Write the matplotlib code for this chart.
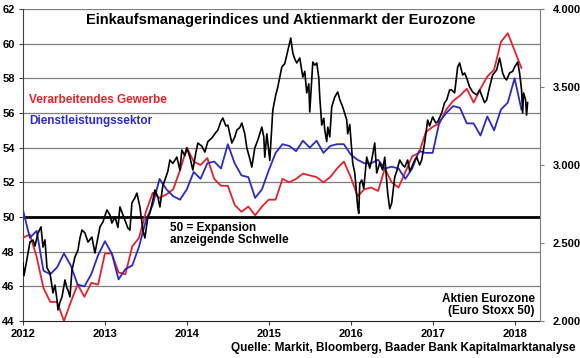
import matplotlib
matplotlib.use("Agg")
import matplotlib.pyplot as plt
from matplotlib.ticker import FuncFormatter

plt.rcParams['font.family'] = ['Liberation Sans', 'DejaVu Sans']
plt.rcParams['font.weight'] = 'bold'

# monthly PMI values, Jan 2012 .. Feb 2018
manufacturing = [48.8, 49.0, 47.7, 45.9, 45.1, 45.1, 44.0, 45.1, 46.1, 45.4, 46.2, 46.1,
                 47.9, 47.9, 46.8, 46.7, 48.3, 48.8, 50.3, 51.4, 51.1, 51.3, 51.6, 52.7,
                 54.0, 53.2, 53.0, 53.4, 52.2, 51.8, 51.8, 50.7, 50.3, 50.6, 50.1, 50.6,
                 51.0, 51.0, 52.2, 52.0, 52.2, 52.5, 52.4, 52.3, 52.0, 52.3, 52.8, 53.2,
                 52.3, 51.2, 51.6, 51.7, 51.5, 52.8, 52.0, 51.7, 52.6, 53.5, 53.7, 54.9,
                 55.2, 55.4, 56.2, 56.7, 57.0, 57.4, 56.6, 57.4, 58.1, 58.5, 60.1, 60.6,
                 59.6, 58.6]
services = [50.4, 48.8, 49.2, 46.9, 46.7, 47.1, 47.9, 47.2, 46.1, 46.0, 46.7, 47.8,
            48.6, 47.9, 46.4, 47.0, 47.2, 48.3, 49.8, 50.7, 52.2, 51.6, 51.2, 51.0,
            51.6, 52.6, 52.2, 53.1, 53.2, 52.8, 54.2, 53.1, 52.4, 52.3, 51.1, 51.6,
            52.7, 53.7, 54.2, 54.1, 53.8, 54.4, 54.0, 54.4, 53.7, 54.1, 54.2, 54.2,
            53.6, 53.3, 53.1, 53.1, 53.3, 52.8, 52.9, 52.8, 52.2, 52.8, 53.8, 53.7,
            53.7, 55.5, 56.0, 56.4, 56.3, 55.4, 55.4, 54.7, 55.8, 55.0, 56.2, 56.6,
            58.0, 56.2]
pmi_t = [2012 + i / 12 for i in range(len(manufacturing))]

# Euro Stoxx 50: (time in years, index level)
stoxx = [
    (2012.000, 2372), (2012.012, 2290), (2012.049, 2400), (2012.085, 2506), (2012.122, 2519),
    (2012.146, 2480), (2012.183, 2564), (2012.220, 2603), (2012.244, 2474), (2012.268, 2520),
    (2012.293, 2340), (2012.329, 2308), (2012.366, 2180), (2012.390, 2230), (2012.415, 2135),
    (2012.427, 2071), (2012.451, 2120), (2012.476, 2154), (2012.512, 2263), (2012.537, 2210),
    (2012.549, 2199), (2012.573, 2154), (2012.598, 2327), (2012.634, 2410), (2012.671, 2455),
    (2012.695, 2532), (2012.720, 2583), (2012.756, 2564), (2012.793, 2506), (2012.841, 2538),
    (2012.878, 2436), (2012.915, 2538), (2012.939, 2603), (2012.976, 2635), (2013.024, 2712),
    (2013.061, 2680), (2013.085, 2628), (2013.122, 2667), (2013.159, 2600), (2013.183, 2731),
    (2013.207, 2699), (2013.244, 2647), (2013.280, 2596), (2013.305, 2583), (2013.329, 2756),
    (2013.366, 2790), (2013.390, 2820), (2013.427, 2731), (2013.463, 2583), (2013.488, 2532),
    (2013.524, 2667), (2013.549, 2692), (2013.585, 2776), (2013.610, 2840), (2013.646, 2795),
    (2013.671, 2731), (2013.707, 2870), (2013.732, 2904), (2013.768, 2960), (2013.793, 3032),
    (2013.829, 3010), (2013.878, 3051), (2013.915, 2968), (2013.939, 3096), (2013.976, 3060),
    (2014.000, 3109), (2014.037, 3050), (2014.073, 2968), (2014.110, 3080), (2014.134, 3141),
    (2014.183, 3120), (2014.220, 3083), (2014.256, 3150), (2014.305, 3173), (2014.341, 3200),
    (2014.378, 3224), (2014.415, 3280), (2014.439, 3301), (2014.476, 3250), (2014.500, 3256),
    (2014.524, 3200), (2014.549, 3141), (2014.585, 3180), (2014.610, 3224), (2014.646, 3240),
    (2014.671, 3269), (2014.707, 3200), (2014.732, 3109), (2014.768, 3040), (2014.793, 2987),
    (2014.829, 3109), (2014.866, 3160), (2014.915, 3243), (2014.939, 3180), (2014.951, 3050),
    (2014.976, 3200), (2015.012, 3030), (2015.049, 3352), (2015.085, 3450), (2015.110, 3500),
    (2015.159, 3628), (2015.195, 3650), (2015.220, 3705), (2015.244, 3760), (2015.268, 3814),
    (2015.293, 3718), (2015.317, 3680), (2015.341, 3654), (2015.378, 3686), (2015.415, 3564),
    (2015.439, 3600), (2015.463, 3462), (2015.488, 3520), (2015.500, 3340), (2015.524, 3550),
    (2015.537, 3660), (2015.561, 3640), (2015.585, 3654), (2015.610, 3560), (2015.622, 3436),
    (2015.646, 3256), (2015.671, 3300), (2015.683, 3224), (2015.707, 3150), (2015.720, 3243),
    (2015.744, 3180), (2015.768, 3372), (2015.805, 3436), (2015.841, 3468), (2015.866, 3420),
    (2015.902, 3372), (2015.927, 3330), (2015.951, 3289), (2015.963, 3200), (2015.988, 3260),
    (2016.024, 3013), (2016.049, 2950), (2016.073, 2800), (2016.085, 2731), (2016.098, 2690),
    (2016.110, 2880), (2016.134, 2904), (2016.159, 2850), (2016.195, 3051), (2016.232, 2980),
    (2016.256, 3032), (2016.293, 3141), (2016.317, 2949), (2016.354, 3013), (2016.390, 2968),
    (2016.415, 3050), (2016.451, 2820), (2016.476, 2720), (2016.500, 2756), (2016.537, 2923),
    (2016.561, 2960), (2016.598, 3032), (2016.634, 3000), (2016.659, 2987), (2016.695, 3032),
    (2016.720, 2960), (2016.744, 2987), (2016.780, 3030), (2016.805, 3051), (2016.841, 3000),
    (2016.866, 3032), (2016.902, 3141), (2016.939, 3288), (2016.963, 3250), (2017.000, 3308),
    (2017.037, 3270), (2017.061, 3276), (2017.110, 3333), (2017.146, 3400), (2017.171, 3417),
    (2017.207, 3481), (2017.232, 3481), (2017.268, 3462), (2017.305, 3628), (2017.329, 3654),
    (2017.366, 3577), (2017.390, 3590), (2017.415, 3558), (2017.451, 3500), (2017.488, 3468),
    (2017.537, 3449), (2017.573, 3481), (2017.610, 3430), (2017.634, 3400), (2017.659, 3417),
    (2017.695, 3500), (2017.732, 3577), (2017.780, 3609), (2017.817, 3686), (2017.854, 3590),
    (2017.878, 3560), (2017.902, 3545), (2017.939, 3590), (2017.976, 3600), (2018.000, 3628),
    (2018.037, 3660), (2018.061, 3590), (2018.085, 3480), (2018.098, 3333), (2018.110, 3462),
    (2018.134, 3417), (2018.146, 3320), (2018.159, 3400),
]
stoxx_t = [p[0] for p in stoxx]
stoxx_v = [p[1] for p in stoxx]

left_ticks = [44, 46, 48, 50, 52, 54, 56, 58, 60, 62]
right_ticks = [2000, 2500, 3000, 3500, 4000]
year_ticks = [2012, 2013, 2014, 2015, 2016, 2017, 2018]

red = '#e3232c'
blue = '#2b2bc4'
grid_grey = '#7f7f7f'

fig = plt.figure(figsize=(5.8, 3.58), dpi=100)
ax = fig.add_axes([23 / 580, 1 - 321 / 358, 517 / 580, 312 / 358])
ax2 = ax.twinx()

for v in left_ticks[1:]:
    if v == 50:
        ax.axhline(v, color='black', lw=2.0, zorder=1)
    else:
        ax.axhline(v, color=grid_grey, lw=0.9, zorder=1)

ax.plot(pmi_t, manufacturing, color=red, lw=1.3, zorder=3)
ax.plot(pmi_t, services, color=blue, lw=1.3, zorder=3)
ax2.plot(stoxx_t, stoxx_v, color='black', lw=1.2)

ax.set_xlim(2012, 2018.31)
ax.set_ylim(44, 62)
ax2.set_ylim(2000, 4000)

ax.set_yticks(left_ticks)
ax.set_xticks(year_ticks)
ax2.set_yticks(right_ticks)
ax2.yaxis.set_major_formatter(FuncFormatter(lambda v, p: f"{v:,.0f}".replace(",", ".")))

ax.tick_params(axis='y', direction='out', length=3, width=0.8, labelsize=8, pad=3,
               color='#404040')
ax.tick_params(axis='x', direction='out', length=3, width=0.8, labelsize=8, pad=3,
               color='#404040')
ax2.tick_params(axis='y', direction='out', length=3, width=0.8, labelsize=8, pad=6,
                color=grid_grey)

ax.spines['top'].set_visible(False)
ax2.spines['top'].set_visible(False)
ax2.spines['right'].set_color(grid_grey)
ax2.spines['left'].set_visible(False)
ax2.spines['bottom'].set_visible(False)
ax.spines['right'].set_visible(False)
ax.spines['left'].set_color('#404040')
ax.spines['bottom'].set_color('#202020')

ax.text(0.499, 0.965, 'Einkaufsmanagerindices und Aktienmarkt der Eurozone',
        transform=ax.transAxes, ha='center', va='center', fontsize=10.5, fontweight='bold')
ax.text(0.012, 0.708, 'Verarbeitendes Gewerbe', transform=ax.transAxes, ha='left',
        va='center', fontsize=8.5, color=red)
ax.text(0.012, 0.641, 'Dienstleistungssektor', transform=ax.transAxes, ha='left',
        va='center', fontsize=8.5, color=blue)
ax.text(0.284, 0.318, '50 = Expansion\nanzeigende Schwelle', transform=ax.transAxes,
        ha='left', va='top', fontsize=8.5, linespacing=1.05)
ax.text(0.990, 0.012, 'Aktien Eurozone\n(Euro Stoxx 50)', transform=ax.transAxes,
        ha='right', va='bottom', fontsize=8.5, linespacing=1.05, multialignment='right')
fig.text(0.993, 0.028, 'Quelle: Markit, Bloomberg, Baader Bank Kapitalmarktanalyse',
         ha='right', va='center', fontsize=8.5)

fig.savefig('out.png', dpi=100)
